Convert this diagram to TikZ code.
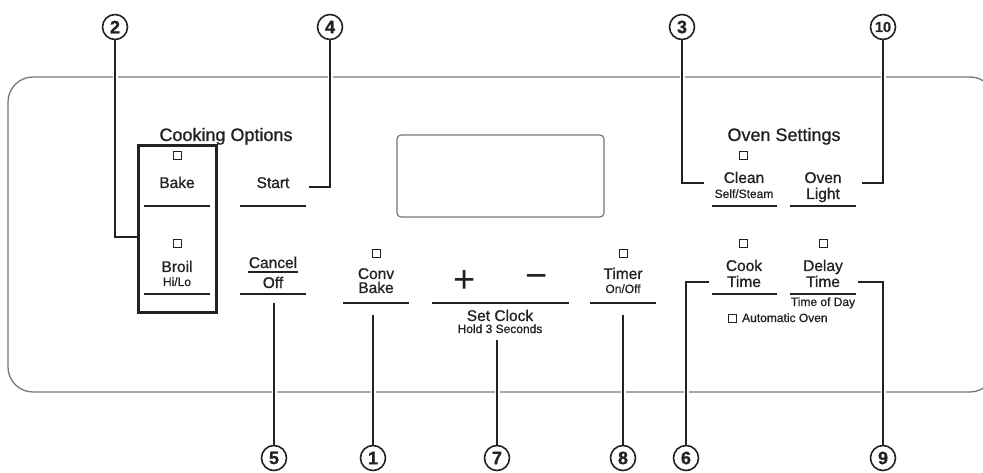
\documentclass[tikz,border=0pt]{standalone}
\usepackage{fontspec}
\setmainfont{Liberation Sans}[FakeBold=0.9]
\newfontfamily\plainfont{Liberation Sans}
\usepackage{tikz}
\usetikzlibrary{arrows.meta}
\usepackage{xcolor}

\definecolor{ink}{HTML}{222222}
\definecolor{rim}{HTML}{777777}

\tikzset{
  btn/.style={inner sep=0pt, anchor=base, text=ink, font=\fontsize{15.5}{15.5}\selectfont},
  sub/.style={inner sep=0pt, anchor=base, text=ink, font=\fontsize{12}{12}\selectfont},
  head/.style={inner sep=0pt, anchor=base, text=ink, font=\fontsize{18}{18}\selectfont},
  sign/.style={inner sep=0pt, text=ink, font=\plainfont\fontsize{38}{38}\selectfont},
  led/.style={draw=ink, line width=0.8pt, minimum size=8pt, inner sep=0pt},
  bar/.style={draw=ink, line width=1.6pt},
  callout/.style={circle, draw=ink, text=ink, line width=1.6pt, minimum size=25pt, inner sep=0pt, font=\bfseries\fontsize{18}{18}\selectfont},
  lead/.style={draw=ink, line width=1.6pt, preaction={draw=white, line width=5pt}},
}

\begin{document}
\begin{tikzpicture}[x=1pt, y=-1pt]
          % Variables
          \def \top    {27}
          \def \bot    {458}
          \def \rowa   {206}
          \def \rowb   {294}
          \def \rowc   {303}

          \clip (0,0) rectangle (983,473);

          % Panel and display
          \draw[rim, line width=1.3pt, rounded corners=25pt] (8,77) rectangle (995,392);
          \draw[rim, line width=1.2pt, rounded corners=4pt] (397,135) rectangle (604,217);

          % Callouts
          \node[callout] (c2)  at (115,\top) {2};
          \node[callout] (c4)  at (330,\top) {4};
          \node[callout] (c3)  at (682,\top) {3};
          \node[callout, font=\bfseries\fontsize{14.5}{14.5}\selectfont] (c10) at (883,\top) {10};
          \node[callout] (c5)  at (274,\bot) {5};
          \node[callout] (c1)  at (373,\bot) {1};
          \node[callout] (c7)  at (497,\bot) {7};
          \node[callout] (c8)  at (623,\bot) {8};
          \node[callout] (c6)  at (686,\bot) {6};
          \node[callout] (c9)  at (883,\bot) {9};

          % Leader ends
          \coordinate (e2)  at (138,237);
          \coordinate (e4)  at (309,187);
          \coordinate (e3)  at (704,183);
          \coordinate (e10) at (862,183);
          \coordinate (e5)  at (274,303);
          \coordinate (e1)  at (373,315);
          \coordinate (e7)  at (497,340);
          \coordinate (e8)  at (623,315);
          \coordinate (e6)  at (709,282);
          \coordinate (e9)  at (858,282);

          % Leaders
          \draw[lead] (c2) |- (e2);
          \draw[lead] (c4) |- (e4);
          \draw[lead] (c3) |- (e3);
          \draw[lead] (c10) |- (e10);
          \draw[lead] (c5) -- (e5);
          \draw[lead] (c1) -- (e1);
          \draw[lead] (c7) -- (e7);
          \draw[lead] (c8) -- (e8);
          \draw[lead] (c6) |- (e6);
          \draw[lead] (c9) |- (e9);

          % Cooking options
          \node[head] (cookopt) at (226,141) {Cooking Options};
          \draw[ink, line width=3pt] (138,146) rectangle (216,312);
          \node[led] (bakeled) at (177,155) {};
          \node[btn] (bake) at (177,188) {Bake};
          \draw[bar] (144,\rowa) -- (210,\rowa);
          \node[led] (broilled) at (177,243) {};
          \node[btn] (broil) at (177,272) {Broil};
          \node[sub] (hilo) at (177,286) {Hi/Lo};
          \draw[bar] (144,\rowb) -- (210,\rowb);

          \node[btn] (start) at (273,188) {Start};
          \draw[bar] (240,\rowa) -- (306,\rowa);
          \node[btn] (cancel) at (273,268) {Cancel};
          \draw[ink, line width=1.2pt] (248,272) -- (298,272);
          \node[btn] (off) at (273,288) {Off};
          \draw[bar] (240,\rowb) -- (306,\rowb);

          % Middle row
          \node[led] (convled) at (376,253) {};
          \node[btn] (conv) at (376,279) {Conv};
          \node[btn] (convbake) at (376,293) {Bake};
          \draw[bar] (343,\rowc) -- (409,\rowc);

          \node[sign] (plus) at (465,282) {+};
          \node[sign] (minus) at (537,282) {−};
          \draw[bar] (432,\rowc) -- (569,\rowc);
          \node[btn] (setclock) at (500,321) {Set Clock};
          \node[sub] (hold) at (500,333) {Hold 3 Seconds};

          \node[led] (timerled) at (623,253) {};
          \node[btn] (timer) at (623,279) {Timer};
          \node[sub] (onoff) at (623,293) {On/Off};
          \draw[bar] (590,\rowc) -- (656,\rowc);

          % Oven settings
          \node[head] (ovenset) at (784,141) {Oven Settings};
          \node[led] (cleanled) at (743,155) {};
          \node[btn] (clean) at (744,183) {Clean};
          \node[sub] (selfsteam) at (744,198) {Self/Steam};
          \draw[bar] (712,\rowa) -- (777,\rowa);
          \node[btn] (oven) at (823,183) {Oven};
          \node[btn] (light) at (823,199) {Light};
          \draw[bar] (790,\rowa) -- (856,\rowa);

          \node[led] (cookled) at (743,243) {};
          \node[btn] (cook) at (744,271) {Cook};
          \node[btn] (cooktime) at (744,287) {Time};
          \draw[bar] (712,\rowb) -- (777,\rowb);
          \node[led] (delayled) at (823,243) {};
          \node[btn] (delay) at (823,271) {Delay};
          \node[btn] (delaytime) at (823,287) {Time};
          \draw[bar] (790,\rowb) -- (856,\rowb);
          \node[sub] (tod) at (823,306) {Time of Day};
          \node[led] (autoled) at (732,318) {};
          \node[sub, anchor=base west] (auto) at (742,322) {Automatic Oven};

        \end{tikzpicture}
\end{document}
